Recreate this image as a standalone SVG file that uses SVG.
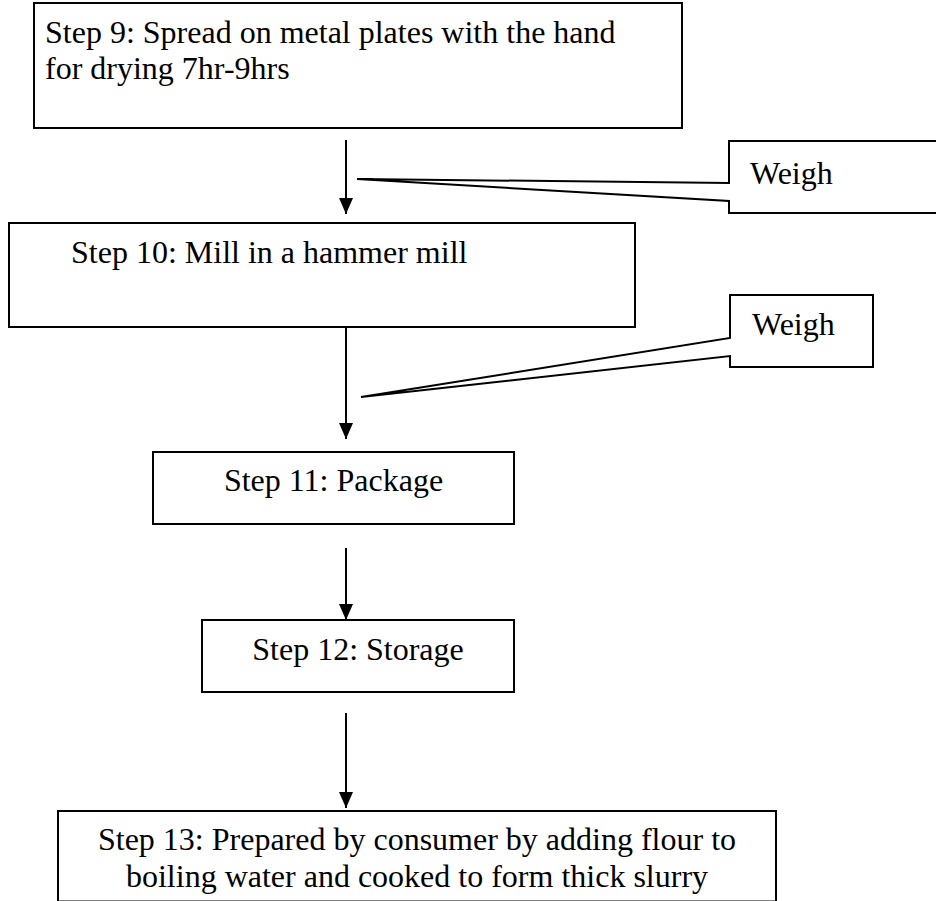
<svg xmlns="http://www.w3.org/2000/svg" width="936" height="901" viewBox="0 0 936 901">
  <style>
    .box { fill: #ffffff; stroke: #000000; stroke-width: 2; }
    .call { fill: #ffffff; stroke: #000000; stroke-width: 2; stroke-linejoin: miter; }
    .lbl { font-family: "Liberation Serif", "Times New Roman", serif; font-size: 32px; fill: #000000; }
    .mid { text-anchor: middle; }
    .flow { stroke: #000000; stroke-width: 2; fill: none; marker-end: url(#head); }
  </style>
  <defs>
    <marker id="head" viewBox="0 0 16 14" refX="16" refY="7" markerWidth="16" markerHeight="14" markerUnits="userSpaceOnUse" orient="auto">
      <path d="M0,0 L16,7 L0,14 Z" fill="#000000"/>
    </marker>
  </defs>
  <rect width="936" height="901" fill="#ffffff"/>

  <!-- flow arrows between steps -->
  <g id="connectors">
    <line class="flow" x1="346" y1="140" x2="346" y2="214"/>
    <line class="flow" x1="346" y1="318" x2="346" y2="439"/>
    <line class="flow" x1="346" y1="548" x2="346" y2="620"/>
    <line class="flow" x1="346" y1="713" x2="346" y2="808"/>
  </g>

  <g id="step9">
    <rect class="box" x="34" y="3" width="648" height="125"/>
    <text class="lbl" x="45" y="43">Step 9: Spread on metal plates with the hand</text>
    <text class="lbl" x="45" y="79">for drying 7hr-9hrs</text>
  </g>

  <!-- callout pointing at the first arrow -->
  <g id="weigh1">
    <path class="call" d="M729,141 L940,141 L940,213 L729,213 L729,201 L357,179 L729,183 Z"/>
    <text class="lbl" x="750" y="184">Weigh</text>
  </g>

  <g id="step10">
    <rect class="box" x="9" y="223" width="626" height="104"/>
    <text class="lbl" x="71" y="263">Step 10: Mill in a hammer mill</text>
  </g>

  <!-- callout pointing at the second arrow -->
  <g id="weigh2">
    <path class="call" d="M730,295 L873,295 L873,367 L730,367 L730,356 L361,397 L730,338 Z"/>
    <text class="lbl" x="752" y="335">Weigh</text>
  </g>

  <g id="step11">
    <rect class="box" x="153" y="452" width="361" height="72"/>
    <text class="lbl mid" x="333.5" y="491">Step 11: Package</text>
  </g>

  <g id="step12">
    <rect class="box" x="202" y="620" width="312" height="72"/>
    <text class="lbl mid" x="358" y="660">Step 12: Storage</text>
  </g>

  <g id="step13">
    <rect class="box" x="58" y="811" width="718" height="90.5"/>
    <text class="lbl mid" x="417" y="850">Step 13: Prepared by consumer by adding flour to</text>
    <text class="lbl mid" x="417" y="887">boiling water and cooked to form thick slurry</text>
  </g>
</svg>
